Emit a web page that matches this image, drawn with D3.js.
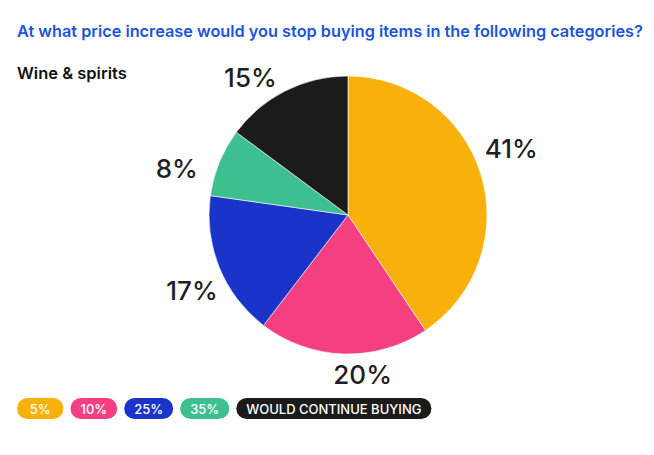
<!DOCTYPE html>
<html><head><meta charset="utf-8">
<script src="https://cdn.jsdelivr.net/npm/d3@7"></script>
<style>
html,body{margin:0;padding:0;background:#fff;}
text{font-family:Inter,"Noto Sans",sans-serif;}
</style></head>
<body><svg id="c" width="654" height="455"></svg>
<script>
const categories = ["5%", "10%", "25%", "35%", "WOULD CONTINUE BUYING"];
const values = [41, 20, 17, 8, 15];
const valueLabels = ["41%", "20%", "17%", "8%", "15%"];
const colors = ["#F8B00A", "#F44080", "#1A33C8", "#3DBF8F", "#1B1B1B"];
const title = "At what price increase would you stop buying items in the following categories?";
const subtitle = "Wine & spirits";

const svg = d3.select("#c");
svg.append("text").attr("x", 17).attr("y", 37).attr("fill", "#1D55D9")
  .attr("font-size", 16.3).attr("font-weight", 600).text(title);
svg.append("text").attr("x", 17).attr("y", 79).attr("fill", "#111")
  .attr("font-size", 16.5).attr("font-weight", 600).text(subtitle);

const cx = 348, cy = 215, r = 139;
const g = svg.append("g").attr("transform", `translate(${cx},${cy})`);
const pie = d3.pie().sort(null).value(d => d);
const arcs = pie(values);
const arc = d3.arc().innerRadius(0).outerRadius(r);
g.selectAll("path").data(arcs).join("path")
  .attr("d", arc).attr("fill", (d, i) => colors[i])
  .attr("stroke", "#fff").attr("stroke-width", 0.6);

const labelRx = 178, labelRy = 162, shift = -6.5 * Math.PI / 180;
g.selectAll("text.lbl").data(arcs).join("text").attr("class", "lbl")
  .attr("x", d => labelRx * Math.sin((d.startAngle + d.endAngle) / 2 + shift))
  .attr("y", d => -2 - labelRy * Math.cos((d.startAngle + d.endAngle) / 2 + shift))
  .attr("text-anchor", "middle").attr("dominant-baseline", "central")
  .attr("font-size", 26).attr("font-weight", 500).attr("fill", "#1f1f1f")
  .text((d, i) => valueLabels[i]);

// legend
const lg = svg.append("g").attr("transform", "translate(17,398)");
let x = 0;
categories.forEach((c, i) => {
  const t = lg.append("text").attr("y", 11).attr("dominant-baseline", "central")
    .attr("text-anchor", "middle").attr("font-size", 13).attr("font-weight", 500)
    .attr("fill", "#fff").text(c);
  const w = Math.max(46.5, t.node().getComputedTextLength() + 20);
  lg.insert("rect", "text").attr("x", x).attr("y", 0).attr("width", w).attr("height", 21)
    .attr("rx", 10.5).attr("fill", colors[i]);
  t.attr("x", x + w / 2);
  x += w + 7;
});
</script></body></html>
